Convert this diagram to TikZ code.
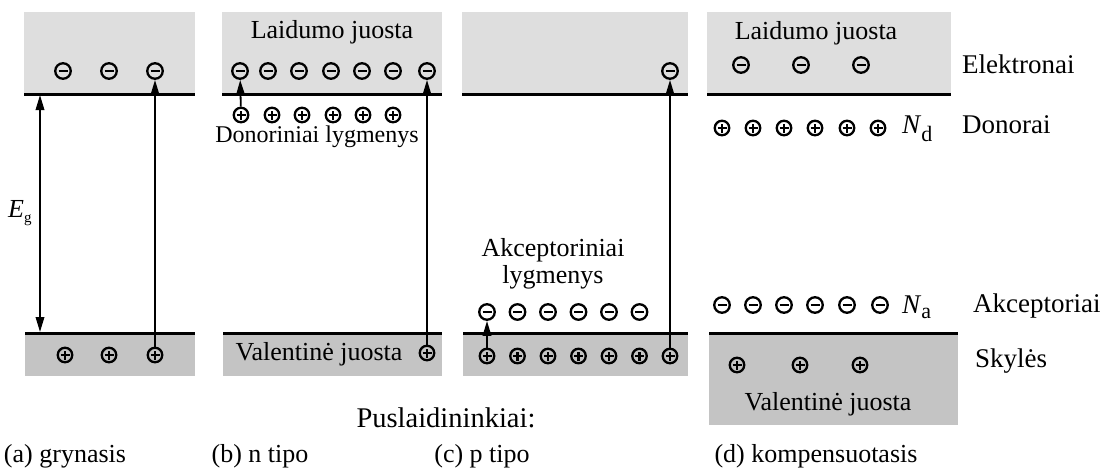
\documentclass[tikz,border=0pt]{standalone}
\usepackage{fontspec}
\setmainfont{Liberation Serif}
\usetikzlibrary{arrows.meta}
\definecolor{condband}{RGB}{222,222,222}
\definecolor{valband}{RGB}{196,196,196}
\tikzset{
  lbl/.style={font=\fontsize{26}{30}\selectfont, inner sep=0pt},
  lblsmall/.style={font=\fontsize{24}{28}\selectfont, inner sep=0pt},
  lblbig/.style={font=\fontsize{27}{31}\selectfont, inner sep=0pt},
  bandedge/.style={line width=3pt},
  elec/.style={circle, draw, line width=2.3pt, minimum size=15.5pt, inner sep=0pt,
    path picture={\draw[line width=2.6pt]
      ([xshift=-4.5pt]path picture bounding box.center) --
      ([xshift=4.5pt]path picture bounding box.center);}},
  hole/.style={circle, draw, line width=2.3pt, minimum size=14.5pt, inner sep=0pt,
    path picture={\draw[line width=2.4pt]
      ([xshift=-4.5pt]path picture bounding box.center) --
      ([xshift=4.5pt]path picture bounding box.center)
      ([yshift=-4.5pt]path picture bounding box.center) --
      ([yshift=4.5pt]path picture bounding box.center);}},
  arr/.style={line width=1.8pt, -{Triangle[width=8.5pt,length=15pt]}},
  dblarr/.style={line width=1.8pt, {Triangle[width=8.5pt,length=15pt]}-{Triangle[width=8.5pt,length=15pt]}},
}
\newcommand{\subtxt}[3]{\raisebox{#2}{\fontsize{#1}{#1}\selectfont #3}}
\begin{document}
\begin{tikzpicture}[x=1pt,y=-1pt]
\useasboundingbox (0,0) rectangle (1102,471);

% ---- bands ----
% (a)
\fill[condband] (24,12) rectangle (195,94);
\fill[valband] (25,333) rectangle (195,376);
\draw[bandedge] (24,94) -- (195,94);
\draw[bandedge] (25,333) -- (195,333);
% (b)
\fill[condband] (222,12) rectangle (442,94);
\fill[valband] (223,333) rectangle (442,376);
\draw[bandedge] (222,94) -- (442,94);
\draw[bandedge] (223,333) -- (442,333);
% (c)
\fill[condband] (462,12) rectangle (688,94);
\fill[valband] (463,333) rectangle (688,376);
\draw[bandedge] (462,94) -- (688,94);
\draw[bandedge] (463,333) -- (688,333);
% (d)
\fill[condband] (707,12) rectangle (951,94);
\fill[valband] (709,333) rectangle (958,425);
\draw[bandedge] (707,94) -- (951,94);
\draw[bandedge] (709,333) -- (958,333);

% ---- (a) grynasis ----
\foreach \i/\x in {1/63,2/109,3/155} \node[elec] (a-e\i) at (\x,71) {};
\foreach \i/\x in {1/65,2/109,3/155} \node[hole] (a-h\i) at (\x,355) {};
\coordinate (a-gtop) at (40,95);
\coordinate (a-gbot) at (40,332);
\draw[dblarr] (a-gtop) -- (a-gbot);
\draw[arr] (a-h3) -- (a-e3);
\node[lbl, anchor=base west] (a-eg) at (8,217) {\textit{E}\subtxt{15}{-5pt}{g}};

% ---- (b) n tipo ----
\node[lbl, anchor=base] (b-cond) at (332,38) {Laidumo juosta};
\foreach \i/\x in {1/240,2/268,3/299,4/331,5/362,6/393,7/427} \node[elec] (b-e\i) at (\x,71) {};
\foreach \i/\x in {1/241,2/272,3/302,4/333,5/363,6/393} \node[hole] (b-d\i) at (\x,115) {};
\node[lblsmall, anchor=base] (b-don) at (317,142) {Donoriniai lygmenys};
\node[lbl, anchor=base] (b-val) at (319,360) {Valentinė juosta};
\node[hole] (b-h1) at (427,353) {};
\draw[arr] (b-d1) -- (b-e1);
\draw[arr] (b-h1) -- (b-e7);

% ---- (c) p tipo ----
\node[elec] (c-e1) at (670,71) {};
\node[lbl, anchor=base] (c-ak1) at (553,256) {Akceptoriniai};
\node[lbl, anchor=base] (c-ak2) at (553,283) {lygmenys};
\foreach \i/\x in {1/487,2/517.5,3/548,4/578.5,5/609,6/639.5} \node[elec] (c-a\i) at (\x,312) {};
\foreach \i/\x in {1/487,2/517.5,3/548,4/578.5,5/609,6/639.5,7/670} \node[hole] (c-h\i) at (\x,356) {};
\draw[arr] (c-h1) -- (c-a1);
\draw[arr] (c-h7) -- (c-e1);

% ---- (d) kompensuotasis ----
\node[lbl, anchor=base] (d-cond) at (816,39) {Laidumo juosta};
\foreach \i/\x in {1/741,2/801,3/861} \node[elec] (d-e\i) at (\x,65) {};
\foreach \i/\x in {1/722,2/753,3/784,4/815,5/847,6/878} \node[hole] (d-d\i) at (\x,128) {};
\node[lblbig, anchor=base west] (d-nd) at (902,133) {\textit{N}\subtxt{22}{-8pt}{d}};
\foreach \i/\x in {1/722,2/753,3/784,4/815,5/847,6/880} \node[elec] (d-a\i) at (\x,305) {};
\node[lblbig, anchor=base west] (d-na) at (902,313) {\textit{N}\subtxt{22}{-5pt}{a}};
\foreach \i/\x in {1/737,2/800,3/860} \node[hole] (d-h\i) at (\x,365) {};
\node[lbl, anchor=base] (d-val) at (828,410) {Valentinė juosta};

% ---- legend on the right ----
\node[lblbig, anchor=base west] (l-el) at (962,73) {Elektronai};
\node[lblbig, anchor=base west] (l-don) at (962,133) {Donorai};
\node[lblbig, anchor=base west] (l-ak) at (973,312) {Akceptoriai};
\node[lblbig, anchor=base west] (l-sk) at (975,367) {Skylės};

% ---- captions ----
\node[lbl, font=\fontsize{28.5}{32}\selectfont, anchor=base] (cap) at (446,427) {Puslaidininkiai:};
\node[lbl, anchor=base] (cap-a) at (65,462) {(a) grynasis};
\node[lbl, anchor=base] (cap-b) at (260,462) {(b) n tipo};
\node[lbl, anchor=base] (cap-c) at (482,462) {(c) p tipo};
\node[lbl, anchor=base] (cap-d) at (816,462) {(d) kompensuotasis};
\end{tikzpicture}
\end{document}
